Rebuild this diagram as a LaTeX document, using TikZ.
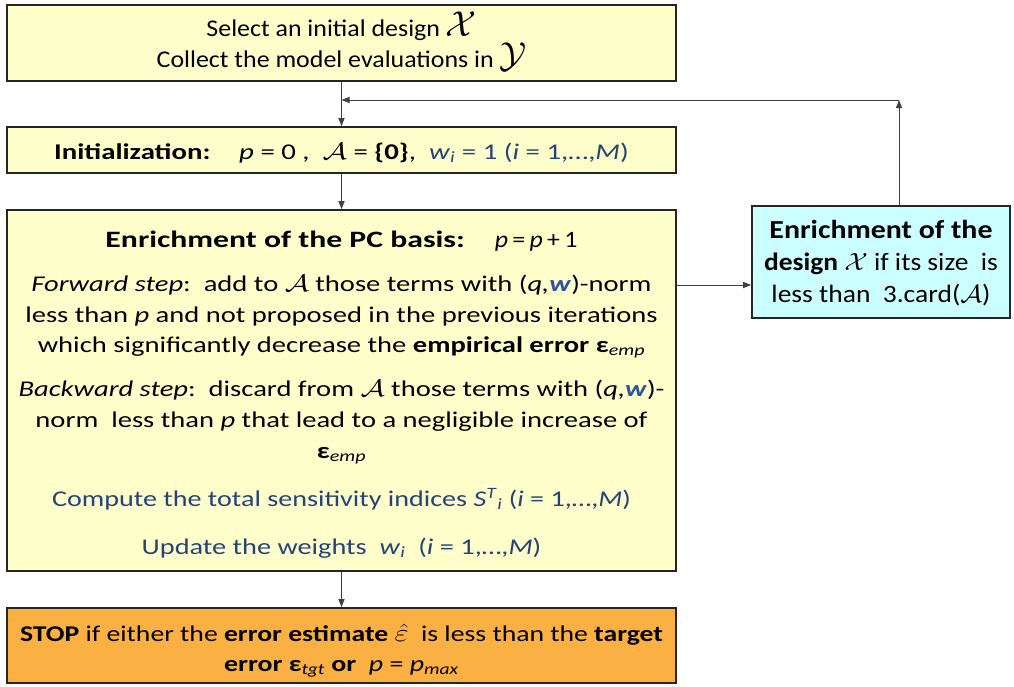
\documentclass[tikz,border=0pt]{standalone}
\usepackage{fontspec}
\setmainfont{Carlito}
\usetikzlibrary{arrows.meta}
\definecolor{boxyellow}{RGB}{255,255,204}
\definecolor{boxorange}{RGB}{250,176,66}
\definecolor{boxcyan}{RGB}{204,255,255}
\definecolor{txtblue}{RGB}{36,68,120}
\definecolor{wblue}{RGB}{46,84,160}
\newcommand{\epsbold}[1]{{\bfseries ε}\textsubscript{\itshape #1}}
\newcommand{\sx}[2]{\scalebox{#1}[1]{#2}}
\newcommand{\bigcal}[1]{\scalebox{1.45}{$\mathcal{#1}$}}
\newcommand{\calA}{\scalebox{1.15}{$\mathcal{A}$}}
\newcommand{\epshat}{\scalebox{1.2}{$\hat{\varepsilon}$}}
\begin{document}
\begin{tikzpicture}[x=1pt,y=-1pt,
  boxbase/.style={draw=black!85, line width=1.6pt, inner sep=0pt},
  ybox/.style={boxbase, fill=boxyellow},
  obox/.style={boxbase, fill=boxorange},
  cbox/.style={boxbase, fill=boxcyan},
  txt/.style={anchor=base, inner sep=0pt, font=\fontsize{22.5}{26}\selectfont},
  btxt/.style={txt, text=txtblue},
  toptxt/.style={anchor=base, inner sep=0pt, font=\fontsize{24}{28}\selectfont},
  ttltxt/.style={anchor=base, inner sep=0pt, font=\fontsize{23.5}{28}\selectfont},
  ctxt/.style={anchor=base, inner sep=0pt, font=\fontsize{25}{28}\selectfont},
  cttl/.style={anchor=base, inner sep=0pt, font=\fontsize{26}{28}\selectfont},
  conn/.style={draw=black!75, line width=1pt, -{Triangle[length=8pt,width=6pt]}}]
\useasboundingbox (0,0) rectangle (1014,686);
% boxes
\node[ybox, minimum width=669pt, minimum height=76pt] (b1) at (341.5,43) {};
\node[ybox, minimum width=669pt, minimum height=46pt] (b2) at (341.5,150) {};
\node[ybox, minimum width=669pt, minimum height=361pt] (b3) at (341.5,390.5) {};
\node[obox, minimum width=669pt, minimum height=75pt] (b4) at (341.5,645.5) {};
\node[cbox, minimum width=258pt, minimum height=112pt] (cy) at (881,262) {};
% texts box 1
\node[toptxt] (t11) at (341.5,36) {\sx{1.08}{Select an initial design} \bigcal{X}};
\node[toptxt] (t12) at (341.5,67) {\sx{1.08}{Collect the model evaluations in} \bigcal{Y}};
% box 2
\node[txt] (t21) at (341.5,159) {\sx{1.28}{\textbf{Initialization:}\quad \textit{p} = 0 ,\ \ \calA{} = \textbf{\{0\}},\ \ \textcolor{txtblue}{\textit{w}\textsubscript{\textit{i}} = 1 (\textit{i} = 1,…,\textit{M})}}};
% box 3
\node[ttltxt] (t31) at (341.5,247) {\sx{1.35}{\textbf{Enrichment of the PC basis:}}\hspace{30pt}\sx{1.1}{\textit{p}\,=\,\textit{p}\,+\,1}};
\node[txt] (t32) at (341.5,291) {\sx{1.27}{\textit{Forward step}:\ \ add to \calA\ those terms with (\textit{q,}\textcolor{wblue}{\textbf{\textit{w}}})-norm}};
\node[txt] (t33) at (341.5,322) {\sx{1.27}{less than \textit{p} and not proposed in the previous iterations}};
\node[txt] (t34) at (341.5,352) {\sx{1.27}{which significantly decrease the \textbf{empirical error} \epsbold{emp}}};
\node[txt] (t35) at (341.5,396) {\sx{1.27}{\textit{Backward step}:\ \ discard from \calA\ those terms with (\textit{q,}\textcolor{wblue}{\textbf{\textit{w}}})-}};
\node[txt] (t36) at (341.5,427) {\sx{1.27}{norm\ \ less than \textit{p} that lead to a negligible increase of}};
\node[txt] (t37) at (341.5,458) {\sx{1.27}{\epsbold{emp}}};
\node[btxt] (t38) at (341.5,506) {\sx{1.25}{Compute the total sensitivity indices \textit{S}\textsuperscript{\textit{T}}\textsubscript{\textit{i}} (\textit{i} = 1,…,\textit{M})}};
\node[btxt] (t39) at (341.5,554) {\sx{1.26}{Update the weights\ \ \textit{w}\textsubscript{\textit{i}}\ \ (\textit{i} = 1,…,\textit{M})}};
% box 4
\node[txt] (t41) at (341.5,641) {\sx{1.23}{\textbf{STOP} if either the \textbf{error estimate} \epshat\ \ is less than the \textbf{target}}};
\node[txt] (t42) at (341.5,671) {\sx{1.24}{\textbf{error} \epsbold{tgt} \textbf{or}\ \ \textit{p} = \textit{p}\textsubscript{\textit{max}}}};
% cyan box
\node[cttl] (c1) at (881,238) {\sx{1.15}{\textbf{Enrichment of the}}};
\node[ctxt] (c2) at (881,270) {\sx{1.1}{\textbf{design} $\mathcal{X}$ if its size\ \ is}};
\node[ctxt] (c3) at (881,302) {\sx{1.1}{less than\ \ 3.card($\mathcal{A}$)}};
% connectors
\coordinate (junc) at (341.5,100);
\coordinate (corner) at (899,100);
\coordinate (arrY) at (0,285);
\draw[conn] (b1.south) -- (b2.north);
\draw[conn] (b2.south) -- (b3.north);
\draw[conn] (b3.south) -- (b4.north);
\draw[conn] (b3.east |- arrY) -- (cy.west |- arrY);
\draw[conn] (cy.north -| corner) -- (corner);
\draw[conn] (corner) -- (junc);
\end{tikzpicture}
\end{document}
